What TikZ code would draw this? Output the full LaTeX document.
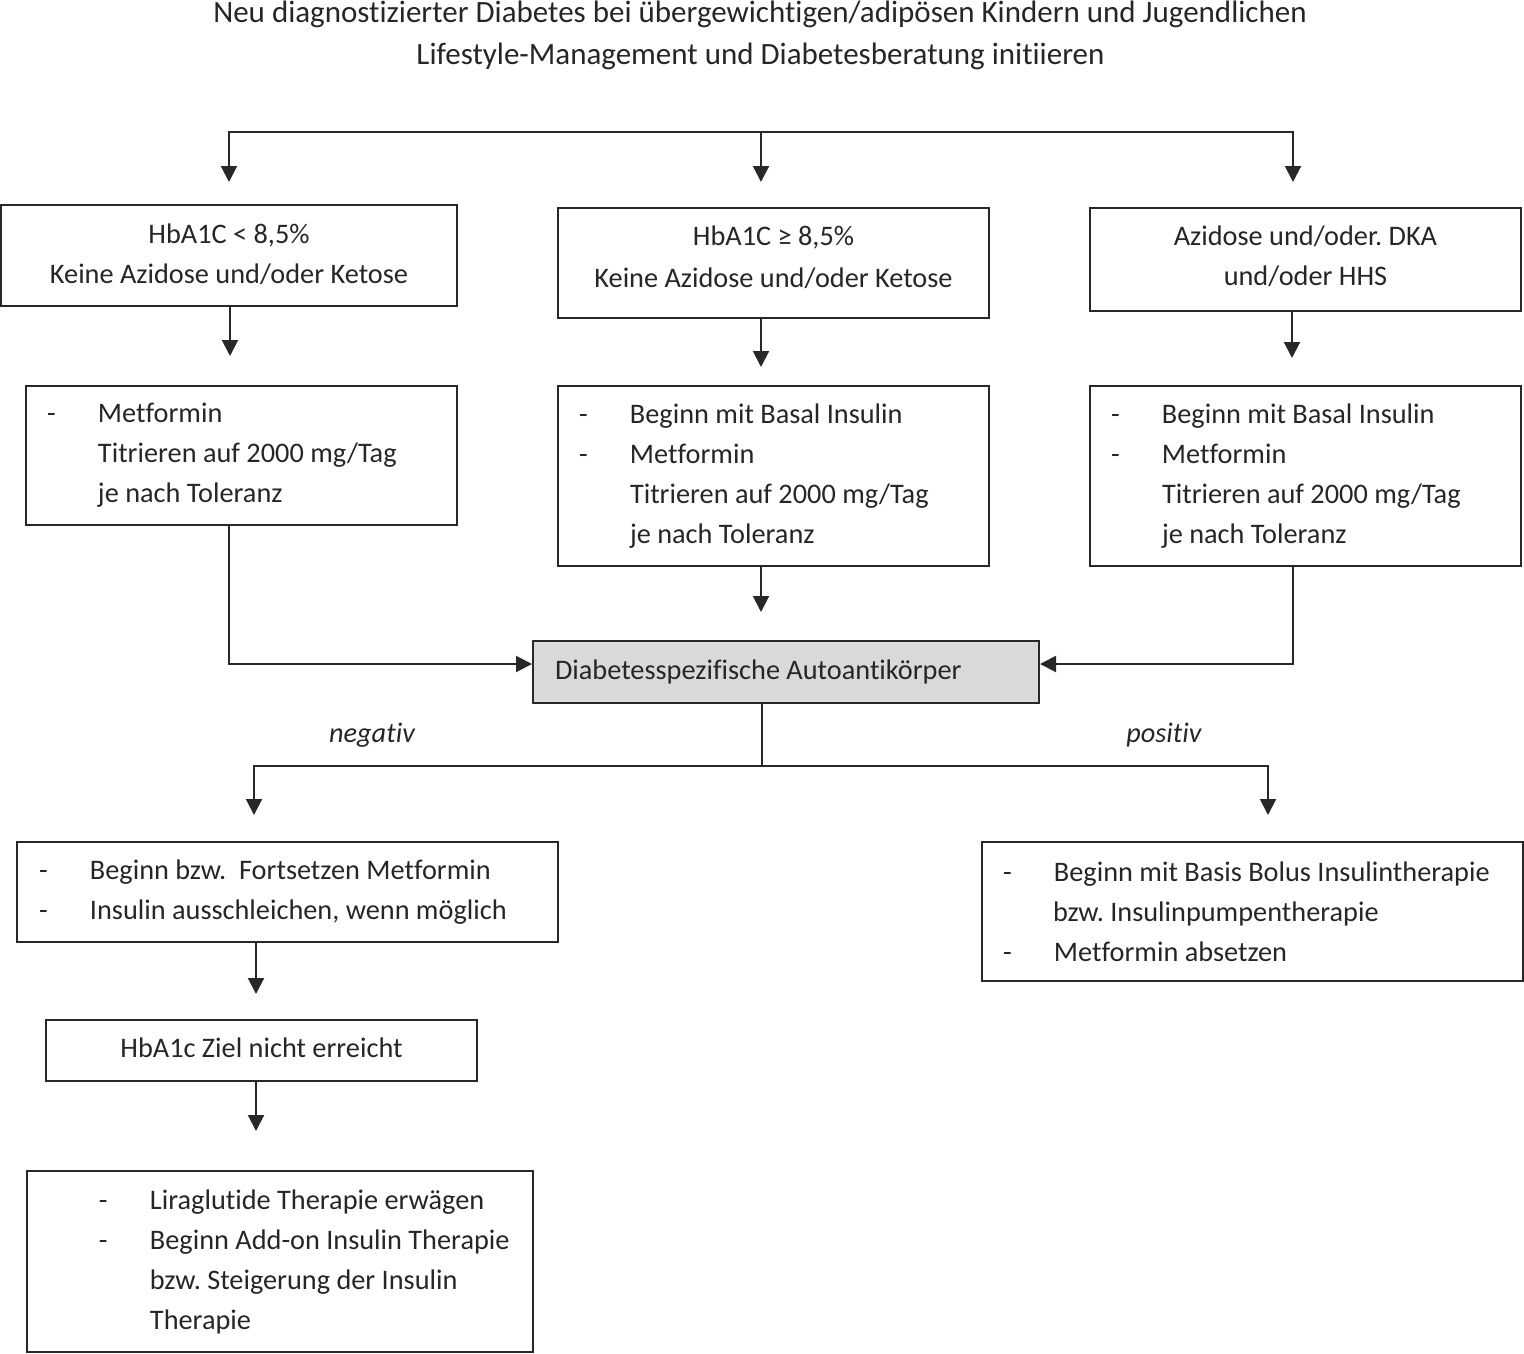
\documentclass[tikz,border=0pt]{standalone}
\usepackage{fontspec}
\setmainfont{Carlito}[Ligatures=CommonOff]
\usetikzlibrary{arrows.meta}
\newcommand{\itm}[2][21pt]{\hspace*{#1}\makebox[51pt][l]{-}#2}
\newcommand{\cnt}[2][72pt]{\hspace*{#1}#2}
\definecolor{lc}{RGB}{40,40,40}
\frenchspacing
\begin{document}
\begin{tikzpicture}[x=1pt,y=-1pt,
  every node/.style={font=\fontsize{28.3}{40}\selectfont\frenchspacing, text=black!85},
  box/.style={draw=lc, line width=2pt, inner xsep=0pt, inner ysep=0pt},
  cbox/.style={box, align=flush center},
  lbox/.style={box, align=flush left},
  arr/.style={draw=lc, line width=2pt, -{Triangle[length=16pt,width=16pt]}},
  ln/.style={draw=lc, line width=2pt},
  lbl/.style={font=\fontsize{28.3}{40}\selectfont\itshape},
  ttl/.style={font=\fontsize{31}{42}\selectfont}
]
\useasboundingbox (0,0) rectangle (1524,1353);
% title
\node[ttl] (t1) at (760,14) {Neu diagnostizierter Diabetes bei übergewichtigen/adipösen Kindern und Jugendlichen};
\node[ttl] (t2) at (760.5,56) {Lifestyle-Management und Diabetesberatung initiieren};
% boxes
\node[cbox, text width=456pt, minimum height=101pt] (b1) at (229,255.5)
  {HbA1C < 8,5\%\\Keine Azidose und/oder Ketose\par\vspace{3pt}};
\node[cbox, text width=431pt, minimum height=110pt] (b2) at (773.5,263)
  {HbA1C ≥ 8,5\%\\[2pt]Keine Azidose und/oder Ketose\par\vspace{11pt}};
\node[cbox, text width=431pt, minimum height=103pt] (b3) at (1305.5,259.5)
  {Azidose und/oder. DKA\\und/oder HHS\par\vspace{7pt}};
\node[lbox, text width=431pt, minimum height=139pt] (b4) at (241.5,455.5)
  {\itm{Metformin}\\\cnt{Titrieren auf 2000 mg/Tag}\\\cnt{je nach Toleranz}};
\node[lbox, text width=431pt, minimum height=180pt] (b5) at (773.5,476)
  {\itm{Beginn mit Basal Insulin}\\\itm{Metformin}\\\cnt{Titrieren auf 2000 mg/Tag}\\\cnt{je nach Toleranz}};
\node[lbox, text width=431pt, minimum height=180pt] (b6) at (1305.5,476)
  {\itm{Beginn mit Basal Insulin}\\\itm{Metformin}\\\cnt{Titrieren auf 2000 mg/Tag}\\\cnt{je nach Toleranz}};
\node[lbox, text width=506pt, minimum height=62pt, fill={rgb,255:red,217;green,217;blue,217}] (b7) at (786,672)
  {\hspace*{22pt}Diabetesspezifische Autoantikörper};
\node[lbox, text width=541pt, minimum height=100pt] (b8) at (287.5,892)
  {\itm[22pt]{Beginn bzw.\ \ Fortsetzen Metformin}\\\itm[22pt]{Insulin ausschleichen, wenn möglich}};
\node[lbox, text width=541pt, minimum height=139pt] (b9) at (1252.5,911.5)
  {\itm{Beginn mit Basis Bolus Insulintherapie}\\\cnt[71pt]{bzw. Insulinpumpentherapie}\\\itm{Metformin absetzen}};
\node[cbox, text width=431pt, minimum height=61pt] (b10) at (261.5,1050.5)
  {HbA1c Ziel nicht erreicht\par\vspace{5pt}};
\node[lbox, text width=506pt, minimum height=181pt] (b11) at (280,1261.5)
  {\itm[72pt]{Liraglutide Therapie erwägen}\\\itm[72pt]{Beginn Add-on Insulin Therapie}\\\cnt[123pt]{bzw. Steigerung der Insulin}\\\cnt[123pt]{Therapie}};
% labels
\node[lbl] (neg) at (372,735) {negativ};
\node[lbl] (pos) at (1164,735) {positiv};
% top spine
\coordinate (s1) at (229,132);
\coordinate (s2) at (761,132);
\coordinate (s3) at (1293,132);
\coordinate (e1) at (229,182);
\coordinate (e2) at (761,182);
\coordinate (e3) at (1293,182);
\draw[arr] (s2) -| (e1);
\draw[arr] (s2) -| (e3);
\draw[arr] (s2) -- (e2);
% box to box arrows
\coordinate (a1) at (230,356);
\coordinate (a2) at (761,367);
\coordinate (a3) at (1292,358);
\draw[arr] (b1.south -| a1) -- (a1);
\draw[arr] (b2.south -| a2) -- (a2);
\draw[arr] (b3.south -| a3) -- (a3);
\coordinate (a5) at (761,612);
\draw[arr] (b5.south -| a5) -- (a5);
\draw[arr] ([xshift=-12.5pt]b4.south) |- ([yshift=8pt]b7.west);
\draw[arr] ([xshift=-12.5pt]b6.south) |- ([yshift=8pt]b7.east);
% split
\coordinate (m) at (762,766);
\coordinate (n1) at (254,815);
\coordinate (p1) at (1268,815);
\draw[ln] (b7.south -| m) -- (m);
\draw[arr] (m) -| (n1);
\draw[arr] (m) -| (p1);
\coordinate (a8) at (256,994);
\draw[arr] (b8.south -| a8) -- (a8);
\coordinate (a10) at (256,1131);
\draw[arr] (b10.south -| a10) -- (a10);
\end{tikzpicture}
\end{document}
